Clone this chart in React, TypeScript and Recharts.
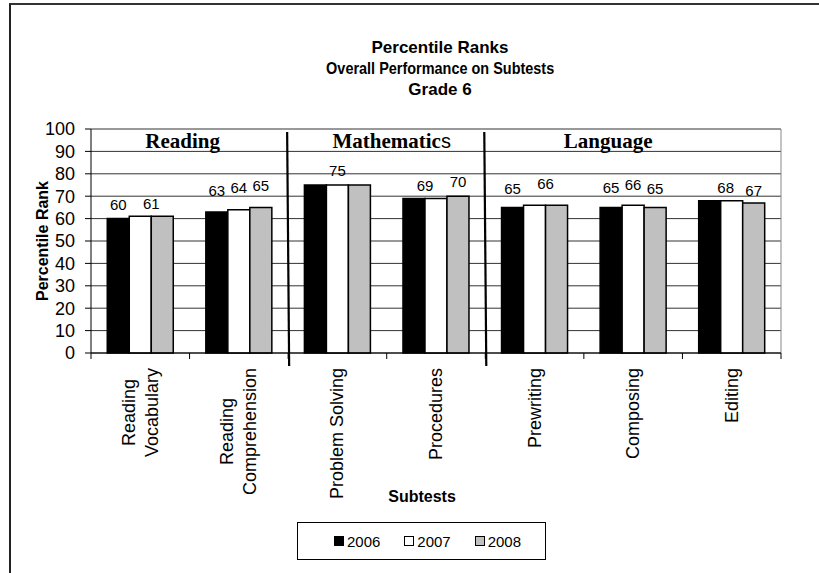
import React from "react";
import {
  Bar,
  BarChart,
  CartesianGrid,
  ReferenceArea,
  ReferenceLine,
  XAxis,
  YAxis,
} from "recharts";

const SUBTESTS = [
  "Reading\nVocabulary",
  "Reading\nComprehension",
  "Problem Solving",
  "Procedures",
  "Prewriting",
  "Composing",
  "Editing",
];
const YEARS = ["2006", "2007", "2008"];
const Y2006 = [60, 63, 75, 69, 65, 65, 68];
const Y2007 = [61, 64, 75, 69, 66, 66, 68];
const Y2008 = [61, 65, 75, 70, 66, 65, 67];
// which bars carry a value label in the original
const SHOW2006 = [true, true, false, true, true, true, false];
const SHOW2007 = [true, true, true, false, true, true, true];
const SHOW2008 = [false, true, false, true, false, true, true];
const Y_TICKS = [0, 10, 20, 30, 40, 50, 60, 70, 80, 90, 100];
const GROUPS = [
  { name: "Reading", from: 0, to: 1 },
  { name: "Mathematics", from: 2, to: 3 },
  { name: "Language", from: 4, to: 6 },
];
const TITLE = ["Percentile Ranks", "Overall Performance on Subtests", "Grade 6"];

const SANS = '"Liberation Sans", Arial, sans-serif';
const SERIF = '"Liberation Serif", "Times New Roman", serif';

const W = 819;
const H = 573;
const TOP = 129;
const BOTTOM = 353;
const X_AXIS_H = 130;

const FILLS = ["#000000", "#ffffff", "#c0c0c0"];

// label placement tweaks (Excel labels were dragged around a bit)
const LABEL_NUDGE: Record<string, { dx: number; dy: number }> = {
  "2006-0": { dx: 0, dy: 1 },
  "2007-0": { dx: 11, dy: 2 },
  "2006-1": { dx: 0, dy: -6 },
  "2007-1": { dx: 0, dy: -7 },
  "2008-1": { dx: 0, dy: -7 },
  "2006-3": { dx: 11, dy: 2 },
  "2006-4": { dx: 0, dy: -4 },
  "2007-4": { dx: 11, dy: -7 },
  "2006-5": { dx: 0, dy: -5 },
  "2007-5": { dx: 0, dy: -6 },
  "2008-5": { dx: 0, dy: -4 },
  "2007-6": { dx: -6, dy: 2 },
  "2008-6": { dx: 0, dy: 3 },
};
const GROUP_DX = [-7, 5, -25];
const TITLE_SCALE = [1, 0.85, 1];

const data = SUBTESTS.map((name, i) => ({
  name,
  y2006: Y2006[i],
  y2007: Y2007[i],
  y2008: Y2008[i],
}));
const SHOW = [SHOW2006, SHOW2007, SHOW2008];

let measureCtx: CanvasRenderingContext2D | null = null;
function textWidth(s: string, font: string) {
  if (!measureCtx) measureCtx = document.createElement("canvas").getContext("2d");
  if (!measureCtx) return s.length * 9;
  measureCtx.font = font;
  return measureCtx.measureText(s).width;
}

function makeLabel(yi: number) {
  return (p: any) => {
    const vb = p.viewBox ?? p;
    const idx = p.index;
    if (idx == null || !SHOW[yi][idx]) return null;
    const n = LABEL_NUDGE[`${YEARS[yi]}-${idx}`] ?? { dx: 0, dy: 0 };
    return (
      <text
        key={`l-${yi}-${idx}`}
        x={vb.x + vb.width / 2 + n.dx}
        y={vb.y - 15 + n.dy}
        textAnchor="middle"
        dominantBaseline="central"
        fontSize={15}
        fontFamily={SANS}
        fill="#000"
      >
        {p.value}
      </text>
    );
  };
}

function SubtestTick(props: any) {
  const { x, y, payload, index } = props;
  const half = payload.offset ?? (W - 38 - 91) / SUBTESTS.length / 2;
  const lines = String(payload.value).split("\n");
  const font = `18px ${SANS}`;
  const longest = Math.max(...lines.map((l) => textWidth(l, font)));
  const cy = y + 15 + longest / 2;
  const gap = 23;
  return (
    <g>
      <line x1={x - half} x2={x - half} y1={y} y2={y + 6} stroke="#000" />
      {index === SUBTESTS.length - 1 && (
        <line x1={x + half} x2={x + half} y1={y} y2={y + 6} stroke="#000" />
      )}
      {lines.map((l, i) => {
        const lx = x + (i - (lines.length - 1) / 2) * gap;
        return (
          <text
            key={i}
            x={lx}
            y={cy}
            transform={`rotate(-90, ${lx}, ${cy})`}
            textAnchor="middle"
            dominantBaseline="central"
            fontSize={18}
            fontFamily={SANS}
            fill="#000"
          >
            {l}
          </text>
        );
      })}
    </g>
  );
}

const Separator = (p: any) => {
  const top = Math.min(p.y1, p.y2) + 3;
  const bot = Math.max(p.y1, p.y2) + 13;
  return <line x1={p.x1 - 1} x2={p.x2 + 1} y1={top} y2={bot} stroke="#000" strokeWidth={2.2} />;
};

function groupLabel(gi: number) {
  return (p: any) => {
    const vb = p.viewBox;
    const cx = vb.x + vb.width / 2 + GROUP_DX[gi];
    const name = GROUPS[gi].name;
    const isMath = name === "Mathematics";
    return (
      <text
        x={cx}
        y={TOP + 19}
        textAnchor="middle"
        fontSize={21}
        fontWeight="bold"
        fontFamily={SERIF}
        fill="#000"
      >
        {isMath ? name.slice(0, -1) : name}
        {isMath && (
          <tspan fontFamily={SANS} fontWeight="normal" fontSize={20}>
            s
          </tspan>
        )}
      </text>
    );
  };
}

function LegendBox() {
  return (
    <div
      style={{
        position: "absolute",
        left: 297,
        top: 522,
        width: 249,
        height: 38,
        border: "1px solid #000",
        display: "flex",
        alignItems: "center",
        paddingLeft: 36,
        boxSizing: "border-box",
        fontFamily: SANS,
        fontSize: 15,
      }}
    >
      {YEARS.map((yr, i) => (
        <div key={yr} style={{ width: 81, display: "flex", alignItems: "center" }}>
          <span
            style={{
              display: "inline-block",
              width: 8,
              height: 8,
              border: "1px solid #000",
              background: FILLS[i],
              marginRight: 3,
            }}
          />
          {yr}
        </div>
      ))}
    </div>
  );
}

export default function App() {
  return (
    <div
      style={{
        position: "absolute",
        left: 0,
        top: 0,
        width: W,
        height: H,
        overflow: "hidden",
        background: "#fff",
      }}
    >
      <div
        style={{
          position: "absolute",
          left: 9,
          top: 3,
          width: W,
          height: H,
          borderTop: "2px solid #333",
          borderLeft: "2px solid #222",
        }}
      />
      <div
        style={{
          position: "absolute",
          left: 240,
          top: 37,
          width: 400,
          textAlign: "center",
          fontFamily: SANS,
          fontWeight: "bold",
          fontSize: 17,
          lineHeight: "21px",
        }}
      >
        {TITLE.map((t, i) => (
          <div key={t}>
            <span style={{ display: "inline-block", transform: `scaleX(${TITLE_SCALE[i]})` }}>
              {t}
            </span>
          </div>
        ))}
      </div>
      <div style={{ position: "absolute", left: 0, top: 0 }}>
        <BarChart
          width={W}
          height={H}
          data={data}
          margin={{ top: TOP, right: 38, left: 0, bottom: H - BOTTOM - X_AXIS_H }}
          barGap={0}
          barCategoryGap="16.5%"
        >
          <CartesianGrid vertical={false} stroke="#333" />
          <XAxis
            dataKey="name"
            height={X_AXIS_H}
            interval={0}
            tickLine={false}
            tickSize={0}
            tickMargin={0}
            axisLine={{ stroke: "#000" }}
            tick={<SubtestTick />}
            label={{
              content: () => (
                <text
                  x={422}
                  y={502}
                  textAnchor="middle"
                  fontSize={16}
                  fontWeight="bold"
                  fontFamily={SANS}
                  fill="#000"
                >
                  Subtests
                </text>
              ),
            }}
          />
          <YAxis
            width={91}
            domain={[0, 100]}
            ticks={Y_TICKS}
            interval={0}
            tickSize={6}
            tickMargin={10}
            axisLine={{ stroke: "#000" }}
            tickLine={{ stroke: "#000" }}
            tick={{ fontSize: 18, fontFamily: SANS, fill: "#000" }}
            label={{
              value: "Percentile Rank",
              angle: -90,
              position: "center",
              dx: -3,
              fontSize: 16,
              fontWeight: "bold",
              fontFamily: SANS,
              fill: "#000",
            }}
          />
          {["y2006", "y2007", "y2008"].map((k, i) => (
            <Bar
              key={k}
              dataKey={k}
              fill={FILLS[i]}
              stroke="#000"
              strokeWidth={1.5}
              isAnimationActive={false}
              label={makeLabel(i)}
            />
          ))}
          <ReferenceLine x={SUBTESTS[6]} position="end" stroke="#888" />
          <ReferenceLine x={SUBTESTS[1]} position="end" shape={Separator} />
          <ReferenceLine x={SUBTESTS[3]} position="end" shape={Separator} />
          {GROUPS.map((g, gi) => (
            <ReferenceArea
              key={g.name}
              x1={SUBTESTS[g.from]}
              x2={SUBTESTS[g.to]}
              y1={90}
              y2={100}
              fill="none"
              fillOpacity={0}
              stroke="none"
              label={{ content: groupLabel(gi) }}
            />
          ))}
        </BarChart>
      </div>
      <LegendBox />
    </div>
  );
}
